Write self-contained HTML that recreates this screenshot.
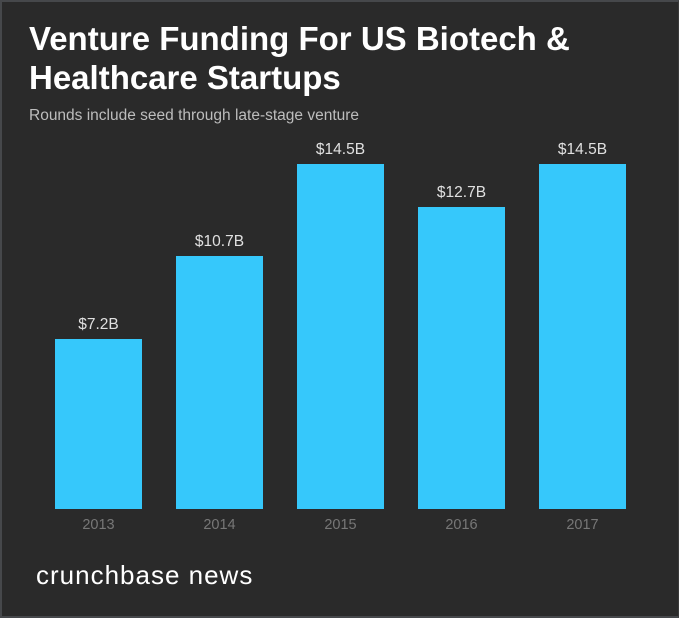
<!DOCTYPE html>
<html><head><style>
body{margin:0;width:679px;height:618px;background:#2a2a2a;overflow:hidden;font-family:"Liberation Sans",sans-serif;}
.wrap{position:absolute;left:0;top:0;border-left:2px solid #46484b;border-top:2px solid #46484b;border-right:1px solid #3a3a3a;border-bottom:2px solid #46484b;box-sizing:border-box;width:679px;height:618px;}
.t{position:absolute;left:29px;top:19px;color:#fff;font-weight:bold;font-size:33px;line-height:39px;letter-spacing:0px;}
.s{position:absolute;left:29px;top:107px;color:#bdbdbd;font-size:15.5px;}
.bar{position:absolute;background:#36c8fb;width:87px;}
.v{position:absolute;width:87px;text-align:center;color:#e0e0e0;font-size:15.5px;}
.y{position:absolute;width:87px;text-align:center;color:#777;font-size:14.5px;top:517px;}
.logo{position:absolute;left:36px;top:560px;color:#fff;font-size:26px;letter-spacing:1px;}
</style></head><body><div class="wrap"></div>
<div class="t">Venture Funding For US Biotech &amp;<br>Healthcare Startups</div>
<div class="s">Rounds include seed through late-stage venture</div>
<div class="bar" style="left:55px;top:339px;height:170px"></div>
<div class="bar" style="left:176px;top:256px;height:253px"></div>
<div class="bar" style="left:297px;top:164px;height:345px"></div>
<div class="bar" style="left:418px;top:207px;height:302px"></div>
<div class="bar" style="left:539px;top:164px;height:345px"></div>
<div class="v" style="left:55px;top:316px">$7.2B</div>
<div class="v" style="left:176px;top:233px">$10.7B</div>
<div class="v" style="left:297px;top:141px">$14.5B</div>
<div class="v" style="left:418px;top:184px">$12.7B</div>
<div class="v" style="left:539px;top:141px">$14.5B</div>
<div class="y" style="left:55px">2013</div>
<div class="y" style="left:176px">2014</div>
<div class="y" style="left:297px">2015</div>
<div class="y" style="left:418px">2016</div>
<div class="y" style="left:539px">2017</div>
<div class="logo">crunchbase news</div>
</body></html>
